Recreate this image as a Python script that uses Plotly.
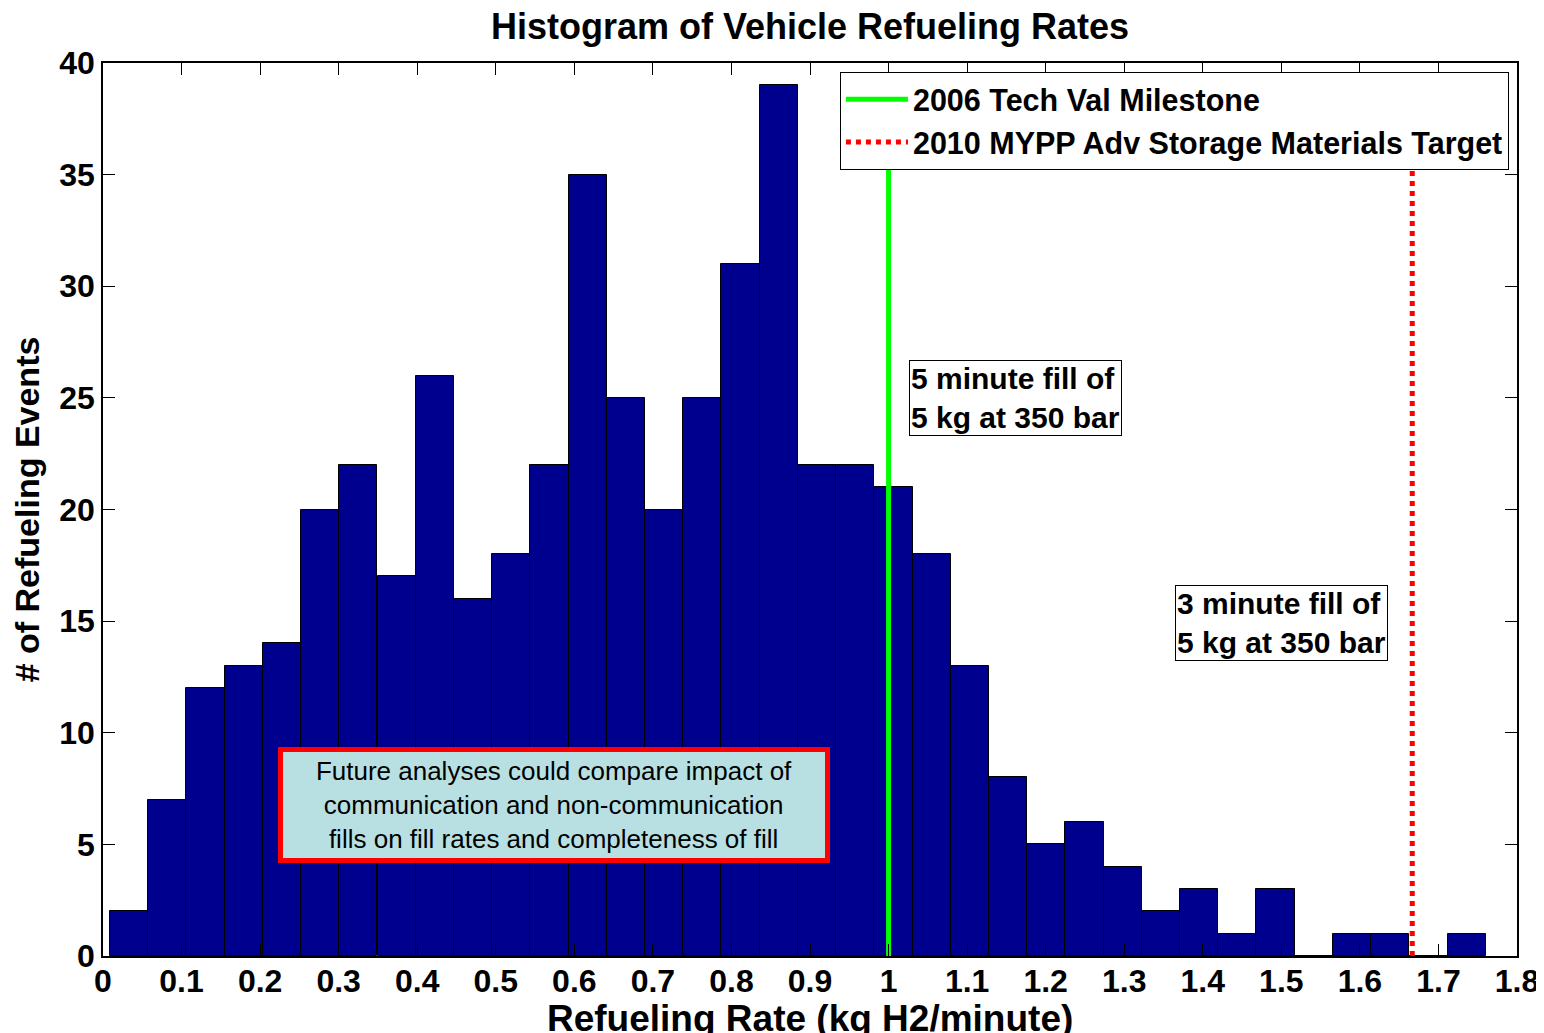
import plotly.graph_objects as go

# ---- data ----
bin_centers = [0.0332, 0.0819, 0.1305, 0.1792, 0.2278, 0.2765, 0.3251, 0.3738, 0.4224,
               0.4711, 0.5197, 0.5684, 0.6170, 0.6657, 0.7143, 0.7630, 0.8116, 0.8603,
               0.9089, 0.9576, 1.0062, 1.0549, 1.1035, 1.1522, 1.2008, 1.2495, 1.2981,
               1.3468, 1.3954, 1.4441, 1.4927, 1.5414, 1.5900, 1.6387, 1.6873, 1.7360]
counts = [2, 7, 12, 13, 14, 20, 22, 17, 26, 16, 18, 22, 35, 25, 20, 25, 31, 39,
          22, 22, 21, 18, 13, 8, 5, 6, 4, 2, 3, 1, 3, 0, 1, 1, 0, 1]
bin_width = 0.04865

milestone_2006 = 1.0
target_2010 = 5.0 / 3.0
line_top = 36

x_tickvals = [0, 0.1, 0.2, 0.3, 0.4, 0.5, 0.6, 0.7, 0.8, 0.9, 1.0, 1.1, 1.2, 1.3, 1.4, 1.5, 1.6, 1.7, 1.8]
x_ticktext = ["0", "0.1", "0.2", "0.3", "0.4", "0.5", "0.6", "0.7", "0.8", "0.9", "1",
              "1.1", "1.2", "1.3", "1.4", "1.5", "1.6", "1.7", "1.8"]
y_tickvals = [0, 5, 10, 15, 20, 25, 30, 35, 40]

FONT = "Liberation Sans, Arial, sans-serif"

# the page body adds an 8px margin, so the figure is sized/positioned to compensate
W, H = 1536, 1025
L, R, T, B = 95, 27, 55, 77
PLOT_H = H - T - B

fig = go.Figure()
fig.add_trace(go.Bar(
    x=bin_centers, y=counts, width=[bin_width] * len(counts),
    marker=dict(color="#00008F", line=dict(color="black", width=1)),
    showlegend=False, hoverinfo="x+y"))
fig.add_trace(go.Scatter(
    x=[milestone_2006, milestone_2006], y=[0, line_top], mode="lines",
    line=dict(color="#00FF00", width=5), name="2006 Tech Val Milestone"))
fig.add_trace(go.Scatter(
    x=[target_2010, target_2010], y=[0, line_top], mode="lines",
    line=dict(color="#FF0000", width=5, dash="dot"),
    name="2010 MYPP Adv Storage Materials Target"))

fig.update_layout(
    width=W, height=H,
    margin=dict(l=L, r=R, t=T, b=B, autoexpand=False),
    paper_bgcolor="white", plot_bgcolor="white",
    font=dict(family=FONT, color="black"),
    bargap=0,
    title=dict(text="<b>Histogram of Vehicle Refueling Rates</b>",
               x=(L + W - R) / 2 / W, xanchor="center",
               y=1 - 18 / H, yanchor="middle", yref="container",
               font=dict(size=36, family=FONT, color="black")),
    legend=dict(x=0.9943, xanchor="right", y=0.99, yanchor="top",
                bgcolor="white", bordercolor="black", borderwidth=1,
                font=dict(size=30.5, family=FONT, color="black", weight="bold"),
                itemwidth=62, tracegroupgap=0),
)
fig.update_xaxes(
    range=[0, 1.8], tickvals=x_tickvals, ticktext=x_ticktext, automargin=False,
    ticks="inside", ticklen=12, tickwidth=1, tickcolor="black",
    ticklabelstandoff=-4,
    showline=True, linecolor="black", linewidth=1.5, mirror="ticks",
    showgrid=False, zeroline=False,
    tickfont=dict(size=32, family=FONT, color="black", weight="bold"))
fig.update_yaxes(
    range=[0, 40], tickvals=y_tickvals, automargin=False,
    ticks="inside", ticklen=12, tickwidth=1, tickcolor="black",
    showline=True, linecolor="black", linewidth=1.5, mirror="ticks",
    showgrid=False, zeroline=False,
    tickfont=dict(size=32, family=FONT, color="black", weight="bold"),
    title=dict(text="<b># of Refueling Events</b>", standoff=16,
               font=dict(size=34, family=FONT, color="black")))

# x-axis title placed just below the tick labels
fig.add_annotation(
    x=0.5, y=-62 / PLOT_H, xref="paper", yref="paper",
    xanchor="center", yanchor="middle", showarrow=False,
    text="<b>Refueling Rate (kg H2/minute)</b>",
    font=dict(size=37, family=FONT, color="black"))

fig.add_annotation(
    x=1.026, y=26.7, xref="x", yref="y", xanchor="left", yanchor="top",
    text="<b>5 minute fill of<br>5 kg at 350 bar</b>", align="left", showarrow=False,
    font=dict(size=30, family=FONT, color="black"),
    bgcolor="white", bordercolor="black", borderwidth=1, borderpad=1)
fig.add_annotation(
    x=1.364, y=16.6, xref="x", yref="y", xanchor="left", yanchor="top",
    text="<b>3 minute fill of<br>5 kg at 350 bar</b>", align="left", showarrow=False,
    font=dict(size=30, family=FONT, color="black"),
    bgcolor="white", bordercolor="black", borderwidth=1, borderpad=1)
fig.add_annotation(
    x=0.5745, y=6.75, xref="x", yref="y", xanchor="center", yanchor="middle",
    text="Future analyses could compare impact of<br>communication and non-communication<br>fills on fill rates and completeness of fill",
    align="center", showarrow=False,
    font=dict(size=26, family=FONT, color="black"),
    bgcolor="#B8E0E3", bordercolor="#FF0000", borderwidth=5, borderpad=3,
    width=536, height=100)

fig.write_html("out.html")
